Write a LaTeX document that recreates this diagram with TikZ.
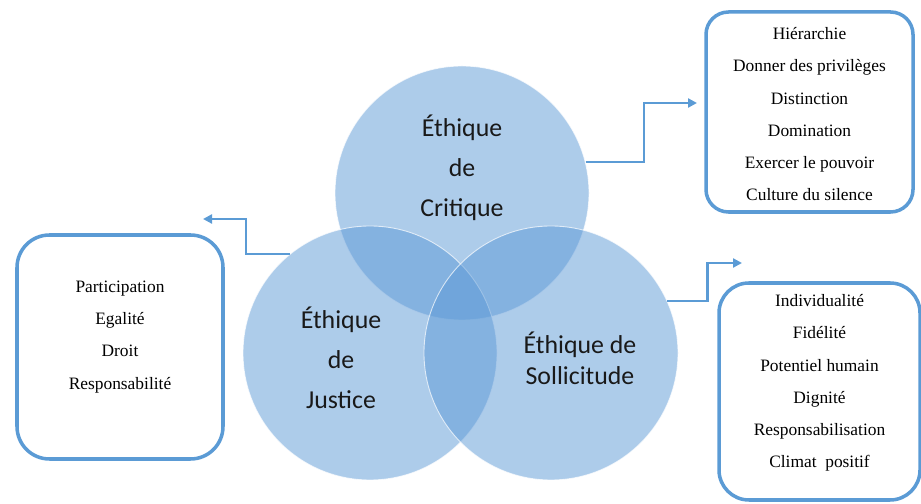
\documentclass[tikz,border=0pt]{standalone}
\usepackage{fontspec}
\setmainfont{Liberation Serif}
\setsansfont{Carlito}
\usetikzlibrary{arrows.meta, positioning}
\definecolor{VennBlue}{HTML}{5C99D6}
\definecolor{FrameBlue}{HTML}{5B9BD5}
\tikzset{
  venncircle/.style={circle, fill=VennBlue, fill opacity=0.5, draw=white, draw opacity=0.7, line width=0.5pt, minimum size=5.08cm, inner sep=0pt},
  venntext/.style={font=\sffamily\fontsize{14.7}{22.7}\selectfont, align=center, text=black!90},
  listbox/.style={rectangle, draw=FrameBlue, line width=2pt, inner sep=0pt},
  listtext/.style={font=\rmfamily\fontsize{9.9}{18.3}\selectfont, align=center, inner sep=0pt, text=black},
  arrow/.style={-{Triangle[length=1.8mm,width=1.8mm]}, line width=1.3pt, FrameBlue}
}

\begin{document}
\begin{tikzpicture}
  \useasboundingbox (0,0) rectangle (18.42,10.08);
  % the three ethics
  \node[venncircle] (crit) at (9.24,6.22) {};
  \node[venncircle] (just) at (7.40,3.02) {};
  \node[venncircle] (soll) at (11.02,3.02) {};
  \node[venntext] (crittext) at (9.24,6.72) {Éthique\\de\\Critique};
  \node[venntext] (justtext) at (6.82,2.92) {Éthique\\de\\Justice};
  \node[venntext, font=\sffamily\fontsize{14.7}{17.6}\selectfont] (solltext) at (11.6,2.92) {Éthique de\\Sollicitude};

  % lists
  \node[listbox, rounded corners=0.45cm, minimum width=4.14cm, minimum height=4.0cm] (critbox) at (16.19,7.84) {};
  \node[listtext, below=0.34cm of critbox.north] (critlist) {Hiérarchie\\Donner des privilèges\\Distinction\\Domination\\Exercer le pouvoir\\Culture du silence};
  \node[listbox, rounded corners=0.65cm, minimum width=4.12cm, minimum height=4.48cm] (justbox) at (2.40,3.14) {};
  \node[listtext, below=0.95cm of justbox.north] (justlist) {Participation\\Egalité\\Droit\\Responsabilité};
  \node[listbox, rounded corners=0.6cm, minimum width=4.02cm, minimum height=4.34cm] (sollbox) at (16.39,2.25) {};
  \node[listtext, below=0.26cm of sollbox.north] (solllist) {Individualité\\Fidélité\\Potentiel humain\\Dignité\\Responsabilisation\\Climat\ \ positif};

  % arrows
  \coordinate (critend) at (13.94,8.02);
  \coordinate (justend) at (4.06,5.70);
  \coordinate (sollend) at (14.84,4.82);
  \draw[arrow] (crit.14) -- ++(1.16,0) |- (critend);
  \draw[arrow] (just.129.5) -- ++(-0.88,0) |- (justend);
  \draw[arrow] (soll.24) -- ++(0.80,0) |- (sollend);
\end{tikzpicture}
\end{document}
